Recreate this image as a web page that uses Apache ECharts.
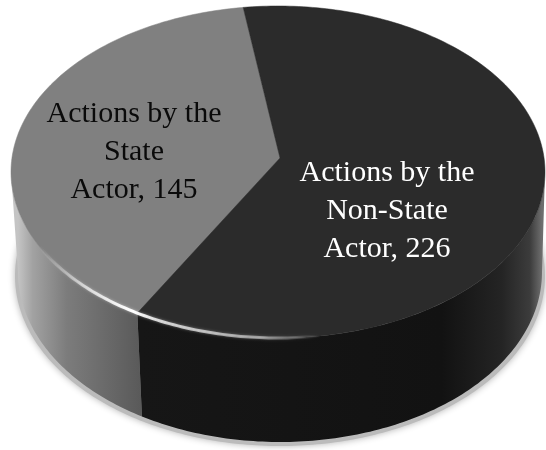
<!DOCTYPE html>
<html>
<head>
    <meta charset="utf-8">
    <title>Actions by actor</title>
    <script src="https://cdn.jsdelivr.net/npm/echarts@6/dist/echarts.min.js"></script>
    <style type="text/css">
        html, body {margin:0; padding:0; background:#fff; overflow:hidden;}
    </style>
</head>
<body>
<div id="container" style="width:546px;height:450px;"></div>
<script type="text/javascript">
    var categories = ['Actions by the\nState\nActor', 'Actions by the\nNon-State\nActor'];
    var values = [145, 226];

    var total = values[0] + values[1];
    var firstAngle = 7.5;            // degrees, counter clockwise from straight up

    // top face and bottom rim of the disc
    var top_ = {cx: 278, cy: 172, rx: 267, ry: 166};
    var low = {cx: 280, cy: 272, rx: 262, ry: 170};
    var apex = [280, 158];

    function at(e, deg) {
        var a = deg * Math.PI / 180;
        return [e.cx - e.rx * Math.sin(a), e.cy - e.ry * Math.cos(a)];
    }
    function arc(e, from, to) {
        var pts = [];
        var n = Math.max(2, Math.ceil(Math.abs(to - from)));
        for (var i = 0; i <= n; i++) {
            pts.push(at(e, from + (to - from) * i / n));
        }
        return pts;
    }
    function hGrad(x0, x1, stops) {
        return new echarts.graphic.LinearGradient(x0, 0, x1, 0, stops, true);
    }

    var faceColors = ['#808080', '#2b2b2b'];
    var textColors = ['#0a0a0a', '#ffffff'];
    var textPos = [[134, 152], [387, 211]];
    var wallFills = [
        hGrad(18, 140, [
            {offset: 0, color: '#c4c4c4'},
            {offset: 0.12, color: '#a2a2a2'},
            {offset: 0.4, color: '#7c7c7c'},
            {offset: 1, color: '#5a5a5a'}
        ]),
        hGrad(140, 542, [
            {offset: 0, color: '#161616'},
            {offset: 0.75, color: '#121212'},
            {offset: 0.9, color: '#242424'},
            {offset: 0.97, color: '#3c3c3c'},
            {offset: 1, color: '#6e6e6e'}
        ])
    ];

    function renderSlice(params, api) {
        var idx = params.dataIndex;
        var before = 0;
        for (var i = 0; i < idx; i++) before += values[i];
        var start = firstAngle + before / total * 360;
        var end = start + api.value(1) / total * 360;
        var children = [];

        if (idx === 0) {
            // soft shadow under the disc
            children.push({
                type: 'polygon',
                shape: {points: arc({cx: low.cx, cy: low.cy + 4, rx: low.rx + 3, ry: low.ry}, 0, 360)},
                style: {fill: '#bbbbbb', shadowBlur: 7, shadowColor: 'rgba(0,0,0,0.3)'}
            });
        }

        var wallFrom = Math.max(start, 90);
        var wallTo = Math.min(end, 270);
        if (wallTo > wallFrom) {
            children.push({
                type: 'polygon',
                shape: {points: arc(top_, wallFrom, wallTo).concat(arc(low, wallTo, wallFrom))},
                style: {fill: wallFills[idx]}
            });
        }

        children.push({
            type: 'polygon',
            shape: {points: [apex].concat(arc(top_, start, end))},
            style: {fill: faceColors[idx], stroke: faceColors[idx], lineWidth: 0.5}
        });

        if (idx === 1) {
            // bright rim along the front edge, strongest near the slice border
            children.push({
                type: 'polyline',
                shape: {points: arc(top_, 100, 215)},
                style: {
                    fill: null,
                    lineWidth: 3,
                    stroke: hGrad(40, 320, [
                        {offset: 0, color: 'rgba(255,255,255,0)'},
                        {offset: 0.16, color: 'rgba(255,255,255,0.6)'},
                        {offset: 0.33, color: 'rgba(255,255,255,1)'},
                        {offset: 0.42, color: 'rgba(255,255,255,0.75)'},
                        {offset: 0.8, color: 'rgba(255,255,255,0.45)'},
                        {offset: 1, color: 'rgba(255,255,255,0)'}
                    ]),
                    shadowBlur: 3,
                    shadowColor: 'rgba(255,255,255,0.5)'
                }
            });
        }

        children.push({
            type: 'text',
            z2: 10,
            style: {
                text: categories[idx] + ', ' + api.value(1),
                x: textPos[idx][0],
                y: textPos[idx][1],
                align: 'center',
                verticalAlign: 'middle',
                fill: textColors[idx],
                font: '30px "Liberation Serif", serif',
                lineHeight: 38
            }
        });

        return {type: 'group', children: children};
    }

    var dom = document.getElementById('container');
    var myChart = echarts.init(dom);
    var rows = [];
    for (var i = 0; i < values.length; i++) {
        rows.push([i, values[i]]);
    }
    var option = {
        backgroundColor: '#ffffff',
        animation: false,
        series: [{
            type: 'custom',
            coordinateSystem: 'none',
            renderItem: renderSlice,
            data: rows
        }]
    };
    myChart.setOption(option);
</script>
</body>
</html>
